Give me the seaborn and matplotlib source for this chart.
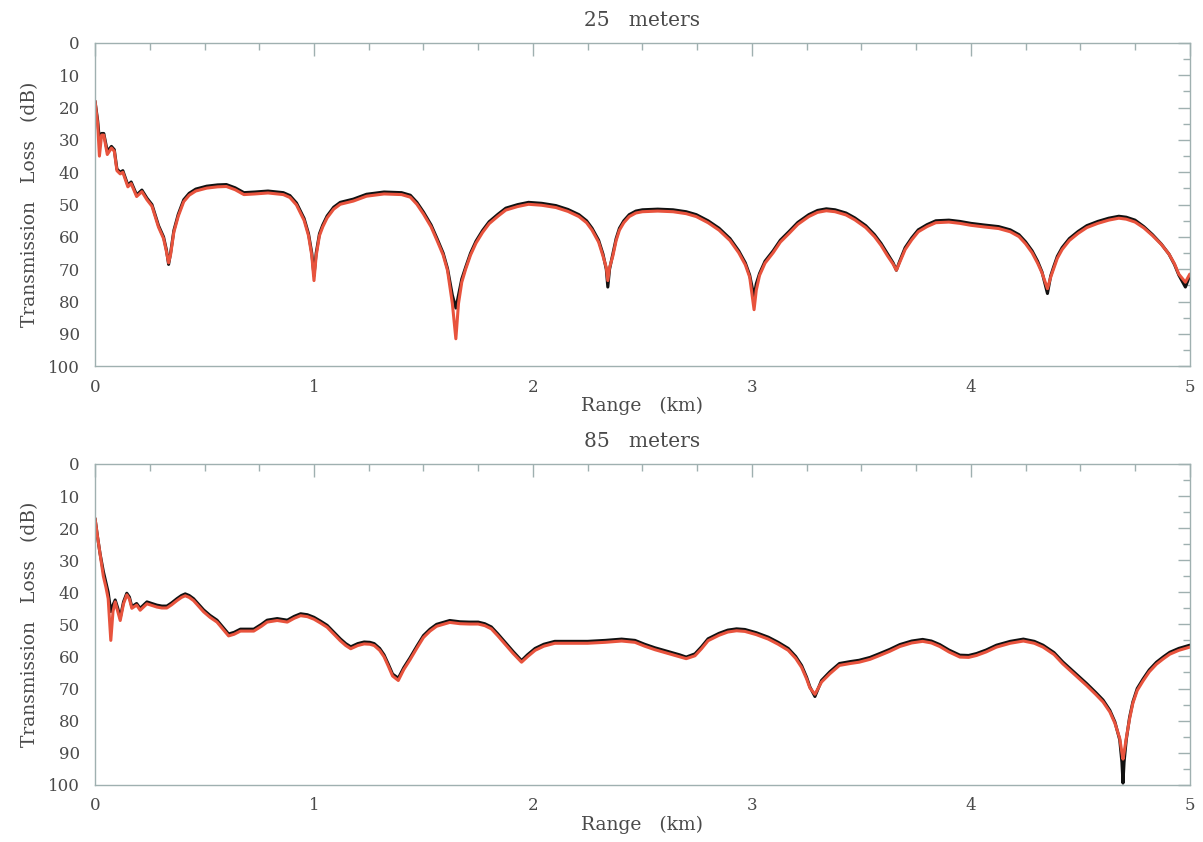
import numpy as np
import pandas as pd
import matplotlib
matplotlib.use("Agg")
import matplotlib.pyplot as plt
from matplotlib.ticker import MultipleLocator
import seaborn as sns

# ---- 25 m receiver depth: range (km), reference TL and model TL (dB) ----
range_25 = [0.0, 0.012, 0.02, 0.03, 0.04, 0.056, 0.075, 0.088, 0.10, 0.115,
            0.127, 0.15, 0.165, 0.19, 0.214, 0.237, 0.26, 0.29, 0.313, 0.326,
            0.336, 0.345, 0.36, 0.38, 0.405, 0.43, 0.46, 0.51, 0.56, 0.60,
            0.64, 0.68, 0.73, 0.79, 0.86, 0.89, 0.92, 0.955, 0.975, 0.99,
            1.0, 1.01, 1.025, 1.04, 1.06, 1.09, 1.12, 1.18, 1.24, 1.32,
            1.40, 1.44, 1.47, 1.50, 1.535, 1.564, 1.59, 1.61, 1.632, 1.648,
            1.66, 1.675, 1.693, 1.715, 1.74, 1.77, 1.80, 1.84, 1.876, 1.93,
            1.98, 2.04, 2.105, 2.16, 2.21, 2.245, 2.27, 2.30, 2.32, 2.335,
            2.342, 2.35, 2.365, 2.38, 2.395, 2.415, 2.44, 2.47, 2.50, 2.57,
            2.64, 2.70, 2.746, 2.80, 2.85, 2.90, 2.94, 2.97, 2.99, 3.01,
            3.02, 3.035, 3.06, 3.097, 3.13, 3.17, 3.21, 3.26, 3.30, 3.34,
            3.38, 3.43, 3.47, 3.52, 3.56, 3.59, 3.62, 3.645, 3.66, 3.675,
            3.70, 3.73, 3.76, 3.80, 3.84, 3.90, 3.95, 4.00, 4.06, 4.127,
            4.18, 4.22, 4.25, 4.28, 4.305, 4.325, 4.35, 4.365, 4.378, 4.395,
            4.417, 4.45, 4.49, 4.53, 4.58, 4.63, 4.676, 4.71, 4.75, 4.79,
            4.83, 4.87, 4.905, 4.93, 4.95, 4.98, 5.0]
tl_25_ref = [18, 24, 30, 28, 28, 33.5, 32, 33, 39, 40,
             39.5, 44, 43, 47, 45.5, 48, 50, 56.5, 60, 64,
             68.5, 65, 58, 53, 48.5, 46.5, 45.2, 44.3, 43.9, 43.8,
             44.8, 46.3, 46.1, 45.8, 46.3, 47.2, 49.5, 54.3, 59, 65,
             72, 65, 59, 56.3, 53.5, 50.8, 49.3, 48.3, 46.8, 46.1,
             46.3, 47.1, 49.3, 52.3, 56.3, 60.8, 65, 69.8, 78, 82,
             78, 73, 69.3, 65, 61.3, 58, 55.3, 53, 51.1, 50,
             49.3, 49.6, 50.3, 51.5, 53.1, 55, 57.3, 61, 65.3, 70,
             75.5, 70, 65.3, 60.5, 57.3, 55, 53.1, 52, 51.6, 51.4,
             51.6, 52.2, 53.1, 55, 57.3, 60.5, 64.3, 68, 71.8, 78.5,
             74.5, 71.3, 67.5, 64.3, 61, 58.3, 55.5, 53.1, 51.8, 51.3,
             51.6, 52.6, 54.1, 56.5, 59.3, 62, 65.3, 68, 70.3, 67.5,
             63.3, 60.3, 57.8, 56.2, 55.0, 54.8, 55.2, 55.8, 56.3, 56.8,
             57.8, 59.3, 61.5, 64.3, 67.5, 70.8, 77.5, 72, 69.3, 66,
             63.3, 60.5, 58.3, 56.5, 55.2, 54.2, 53.6, 53.9, 54.8, 56.8,
             59.3, 62.2, 65.3, 68.5, 71.8, 75.5, 72]
tl_25_model = [18, 25, 35, 28.5, 28.5, 34.5, 32.5, 33.5, 39.5, 40.5,
               40, 44.5, 43.5, 47.5, 46, 48.5, 50.5, 57, 60.5, 64.5,
               68, 65.5, 58.5, 53.6, 49.1, 47.1, 45.8, 44.9, 44.5, 44.4,
               45.4, 46.9, 46.7, 46.4, 46.9, 47.8, 50.1, 54.9, 59.6, 65.8,
               73.5, 65.8, 59.6, 56.9, 54.1, 51.4, 49.9, 48.9, 47.4, 46.7,
               46.9, 47.7, 49.9, 52.9, 56.9, 61.4, 65.6, 70.4, 80.6, 91.5,
               80.6, 74, 69.9, 65.6, 61.9, 58.6, 55.9, 53.6, 51.7, 50.6,
               49.9, 50.2, 50.9, 52.1, 53.7, 55.6, 57.9, 61.6, 65.9, 69.5,
               73.5, 69.5, 65.9, 61.1, 57.9, 55.6, 53.7, 52.6, 52.2, 52,
               52.2, 52.8, 53.7, 55.6, 57.9, 61.1, 64.9, 68.6, 72.4, 82.5,
               76.5, 71.9, 68.1, 64.9, 61.6, 58.9, 56.1, 53.7, 52.4, 51.9,
               52.2, 53.2, 54.7, 57.1, 59.9, 62.6, 65.9, 68.4, 70.3, 67.9,
               63.9, 60.9, 58.4, 56.8, 55.6, 55.4, 55.8, 56.4, 56.9, 57.4,
               58.4, 59.9, 62.1, 64.9, 68.1, 71.1, 76, 72.4, 69.9, 66.6,
               63.9, 61.1, 58.9, 57.1, 55.8, 54.8, 54.2, 54.5, 55.4, 57.2,
               59.6, 62.3, 65.3, 68.3, 71.5, 74.0, 71.5]

# ---- 85 m receiver depth ----
range_85 = [0.0, 0.012, 0.023, 0.038, 0.05, 0.06, 0.072, 0.082, 0.092, 0.104,
            0.115, 0.13, 0.145, 0.157, 0.168, 0.19, 0.206, 0.237, 0.26, 0.282,
            0.305, 0.328, 0.35, 0.374, 0.395, 0.412, 0.43, 0.45, 0.47, 0.496,
            0.525, 0.557, 0.585, 0.61, 0.635, 0.664, 0.725, 0.76, 0.786, 0.832,
            0.878, 0.91, 0.939, 0.97, 1.0, 1.03, 1.06, 1.09, 1.12, 1.145,
            1.168, 1.2, 1.229, 1.255, 1.275, 1.30, 1.32, 1.34, 1.359, 1.385,
            1.41, 1.438, 1.47, 1.50, 1.53, 1.56, 1.62, 1.667, 1.71, 1.75,
            1.78, 1.81, 1.84, 1.872, 1.91, 1.948, 1.975, 2.01, 2.05, 2.10,
            2.17, 2.25, 2.33, 2.405, 2.466, 2.51, 2.557, 2.633, 2.67, 2.70,
            2.74, 2.77, 2.80, 2.85, 2.89, 2.93, 2.968, 3.02, 3.075, 3.12,
            3.166, 3.2, 3.227, 3.25, 3.265, 3.288, 3.318, 3.356, 3.40, 3.45,
            3.49, 3.54, 3.584, 3.63, 3.676, 3.73, 3.78, 3.82, 3.858, 3.90,
            3.95, 3.99, 4.026, 4.07, 4.117, 4.18, 4.24, 4.29, 4.33, 4.38,
            4.42, 4.47, 4.528, 4.57, 4.604, 4.635, 4.658, 4.68, 4.69, 4.695,
            4.70, 4.71, 4.725, 4.74, 4.76, 4.787, 4.815, 4.848, 4.88, 4.909,
            4.95, 5.0]
tl_85_ref = [17, 23, 28, 33.5, 37, 40, 46, 44, 42.4, 45,
             48, 43, 40.3, 41.5, 44.5, 43.5, 45, 43, 43.5, 44,
             44.3, 44.3, 43.3, 42, 41, 40.5, 41, 42, 43.5, 45.5,
             47.2, 48.7, 51, 53, 52.5, 51.5, 51.5, 50, 48.7, 48.2,
             48.7, 47.5, 46.7, 47, 47.8, 49, 50.3, 52.4, 54.5, 56,
             57, 56, 55.5, 55.6, 56, 57.5, 59.5, 62.5, 65.5, 66.8,
             63.5, 60.5, 56.8, 53.5, 51.5, 50, 48.8, 49.2, 49.3, 49.3,
             49.8, 50.8, 53, 55.5, 58.5, 61.3, 59.5, 57.5, 56.2, 55.3,
             55.3, 55.3, 55, 54.6, 55, 56.2, 57.3, 58.8, 59.5, 60.2,
             59.2, 57, 54.5, 52.8, 51.8, 51.4, 51.6, 52.6, 54, 55.6,
             57.5, 60, 62.8, 66.5, 69.5, 72.5, 67.5, 64.8, 62.2, 61.6,
             61.2, 60.3, 59.1, 57.8, 56.3, 55.2, 54.7, 55.2, 56.3, 58,
             59.6, 59.7, 59.1, 58, 56.5, 55.3, 54.6, 55.3, 56.5, 58.8,
             61.7, 64.8, 68.4, 71.2, 73.6, 76.8, 80.4, 86, 93, 99.5,
             93, 86, 79, 74.2, 70, 67, 64.2, 61.8, 60.1, 58.7,
             57.5, 56.5]
tl_85_model = [17, 23, 28, 35, 38.5, 42, 55, 46, 43, 46,
               48.8, 43.6, 40.8, 42.1, 45, 44, 45.6, 43.6, 44.1, 44.6,
               44.9, 44.9, 43.9, 42.6, 41.6, 41.1, 41.6, 42.6, 44.1, 46.1,
               47.8, 49.3, 51.6, 53.6, 53.1, 52.1, 52.1, 50.6, 49.3, 48.8,
               49.3, 48.1, 47.3, 47.6, 48.4, 49.6, 50.9, 53.0, 55.1, 56.6,
               57.6, 56.6, 56.1, 56.2, 56.6, 58.1, 60.1, 63.1, 66.1, 67.5,
               64.1, 61.1, 57.4, 54.1, 52.1, 50.6, 49.4, 49.8, 49.9, 49.9,
               50.4, 51.4, 53.6, 56.1, 59.1, 61.8, 60.1, 58.1, 56.8, 55.9,
               55.9, 55.9, 55.6, 55.2, 55.6, 56.8, 57.9, 59.4, 60.1, 60.7,
               59.8, 57.6, 55.1, 53.4, 52.4, 52.0, 52.2, 53.2, 54.6, 56.2,
               58.1, 60.6, 63.4, 67, 69.8, 71.8, 68.0, 65.4, 62.8, 62.2,
               61.8, 60.9, 59.7, 58.4, 56.9, 55.8, 55.3, 55.8, 56.9, 58.6,
               60.2, 60.3, 59.7, 58.6, 57.1, 55.9, 55.2, 55.9, 57.1, 59.4,
               62.3, 65.4, 69.0, 71.8, 74.2, 77.3, 80.8, 85.5, 90, 92,
               90, 85.5, 79.5, 74.6, 70.6, 67.6, 64.8, 62.4, 60.7, 59.3,
               58.1, 57.1]

panels = [
    ("25   meters", range_25, tl_25_ref, tl_25_model),
    ("85   meters", range_85, tl_85_ref, tl_85_model),
]

sns.set_theme(style="white")
plt.rcParams["font.family"] = ["DejaVu Serif"]

spine_col = "#9fb0b0"
text_col = "#4a4a4a"
ref_col = "#111111"
model_col = "#e8533d"

fig = plt.figure(figsize=(12.03, 8.42), dpi=100)
ax_boxes = [[0.079, 0.565, 0.910, 0.384],
            [0.079, 0.068, 0.910, 0.381]]

for box, (title, rng, ref, model) in zip(ax_boxes, panels):
    ax = fig.add_axes(box)
    df = pd.DataFrame({"Range": rng + rng,
                       "TL": ref + model,
                       "curve": ["reference"] * len(rng) + ["model"] * len(rng)})
    sns.lineplot(data=df, x="Range", y="TL", hue="curve",
                 palette={"reference": ref_col, "model": model_col},
                 estimator=None, sort=False, linewidth=2.2, legend=False, ax=ax)
    for ln in ax.lines:
        ln.set_solid_joinstyle("round")
        ln.set_solid_capstyle("round")
    ax.set_xlim(0, 5)
    ax.set_ylim(100, 0)
    ax.xaxis.set_major_locator(MultipleLocator(1))
    ax.xaxis.set_minor_locator(MultipleLocator(0.25))
    ax.yaxis.set_major_locator(MultipleLocator(10))
    ax.yaxis.set_minor_locator(MultipleLocator(5))
    ax.tick_params(which="both", direction="in", top=True, right=True,
                   color=spine_col, labelcolor=text_col, labelsize=12)
    ax.tick_params(which="major", length=9, width=1.0)
    ax.tick_params(which="minor", length=5, width=1.0)
    ax.tick_params(axis="y", which="major", pad=11)
    ax.tick_params(axis="x", which="major", pad=9)
    for s in ax.spines.values():
        s.set_color(spine_col)
        s.set_linewidth(1.0)
    ax.set_title(title, fontsize=14.5, color=text_col, pad=12)
    ax.set_xlabel("Range   (km)", fontsize=13.5, color=text_col, labelpad=1)
    ax.set_ylabel("Transmission   Loss   (dB)", fontsize=13.5, color=text_col, labelpad=6)

fig.savefig("out.png", dpi=100, facecolor="white")
